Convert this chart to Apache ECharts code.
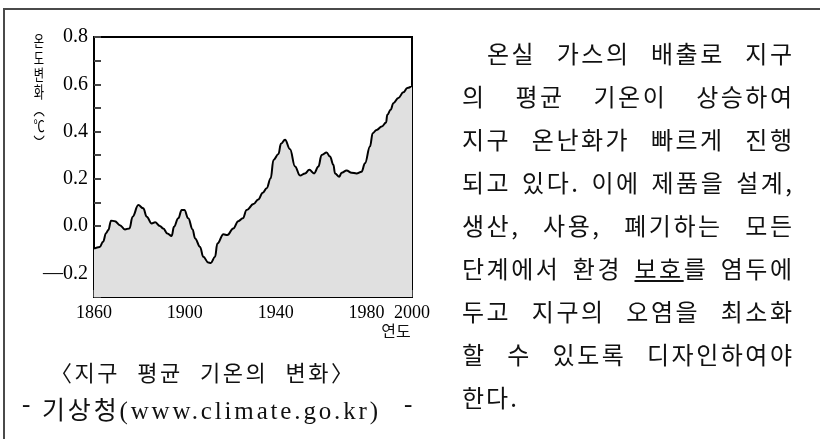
<!DOCTYPE html>
<html>
<head>
    <meta charset="utf-8">
    <title>지구 평균 기온의 변화</title>
    <script src="https://cdn.jsdelivr.net/npm/echarts@6/dist/echarts.min.js"></script>
    <style>
        html, body { margin: 0; padding: 0; background: #fff; }
        #wrap { position: relative; width: 820px; height: 439px; overflow: hidden; }
        #frame {
            position: absolute; left: 3px; top: 8px; width: 830px; height: 440px;
            border-top: 2px solid #4a4a4a; border-left: 2px solid #4a4a4a;
        }
        #chart { position: absolute; left: 0; top: 0; width: 820px; height: 439px; }
        .cap { position: absolute; color: #111; white-space: pre; }
        .fit { display: inline-block; white-space: pre; }
        #yname {
            position: absolute; left: 27px; top: 32px; width: 24px; color: #000;
            font-family: "Noto Sans CJK KR", sans-serif; font-size: 16px; line-height: 17px;
            text-align: center; transform: scaleX(0.7); transform-origin: 50% 0;
        }
        #para {
            position: absolute; left: 462px; top: 31px; width: 340px;
            font-family: "Noto Sans CJK KR", sans-serif; font-size: 24px;
            line-height: 43px; color: #111;
        }
        #para div { white-space: nowrap; }
    </style>
</head>
<body>
<div id="wrap">
    <div id="frame"></div>
    <div id="chart"></div>
    <div id="yname">온<br>도<br>변<br>화<br>︵<br>℃<br>︶</div>
    <div class="cap" style="left:50px; top:355px; font-size:22px; font-family:'Noto Sans CJK KR';"><span class="fit" data-w="303">〈지구 평균 기온의 변화〉</span></div>
    <div class="cap" style="left:22px; top:390px; font-size:25px; font-family:'Liberation Serif',serif;">-</div>
    <div class="cap" style="left:42px; top:390px; font-size:25px; font-family:'Liberation Serif','Noto Sans CJK KR',serif;"><span class="fit" data-w="336">기상청(www.climate.go.kr)</span></div>
    <div class="cap" style="left:404px; top:390px; font-size:25px; font-family:'Liberation Serif',serif;">-</div>
    <div id="para">
        <div style="padding-left:25px"><span class="fit" data-w="305">온실 가스의 배출로 지구</span></div>
        <div><span class="fit" data-w="330">의 평균 기온이 상승하여</span></div>
        <div><span class="fit" data-w="330">지구 온난화가 빠르게 진행</span></div>
        <div><span class="fit" data-w="330">되고 있다. 이에 제품을 설계,</span></div>
        <div><span class="fit" data-w="330">생산, 사용, 폐기하는 모든</span></div>
        <div><span class="fit" data-w="330">단계에서 환경 <u>보호</u>를 염두에</span></div>
        <div><span class="fit" data-w="330">두고 지구의 오염을 최소화</span></div>
        <div><span class="fit" data-w="330">할 수 있도록 디자인하여야</span></div>
        <div><span style="letter-spacing:2px">한다.</span></div>
    </div>
</div>
<script>
    // 연도 / 온도 변화(℃) - 그림에서 읽은 값
    var years = [1860, 1862.5, 1864, 1865.3, 1866.3, 1867.5, 1869.2, 1871.4, 1873.6, 1875.6,
        1877, 1879.5, 1881.7, 1883.2, 1885.4, 1886.9, 1889, 1890.5, 1892.3, 1894.2,
        1895.2, 1897.1, 1898.6, 1899.8, 1901.5, 1903.4, 1904.5, 1906.7, 1908.1, 1910.3,
        1911.4, 1913.3, 1914.3, 1917, 1918.7, 1921.3, 1923.5, 1925.5, 1927.2, 1930.2,
        1932.3, 1934.3, 1936, 1937.8, 1939, 1941.2, 1942.3, 1944.1, 1946.3, 1948.5,
        1950.7, 1952.9, 1954.8, 1956.9, 1958.8, 1960.2, 1962.4, 1963.9, 1965.4, 1966.1,
        1968, 1969, 1971.2, 1973.4, 1975.6, 1977.8, 1979.3, 1981.5, 1982.7, 1984.4,
        1986.7, 1988.6, 1989.1, 1990.6, 1991.8, 1994, 1996.2, 1997.9, 2000];
    var temps = [-0.095, -0.088, -0.066, -0.03, -0.017, 0.023, 0.021, 0.004, -0.014, -0.01,
        0.04, 0.089, 0.075, 0.04, 0.011, 0.016, 0.0, -0.01, -0.031, -0.042,
        -0.003, 0.033, 0.068, 0.068, 0.033, -0.014, -0.052, -0.088, -0.13, -0.154,
        -0.156, -0.13, -0.074, -0.035, -0.038, -0.01, 0.021, 0.033, 0.068, 0.093,
        0.113, 0.141, 0.16, 0.202, 0.28, 0.305, 0.348, 0.365, 0.325, 0.252,
        0.214, 0.223, 0.238, 0.223, 0.252, 0.301, 0.311, 0.294, 0.259, 0.223,
        0.209, 0.226, 0.235, 0.226, 0.223, 0.23, 0.266, 0.337, 0.393, 0.407,
        0.421, 0.438, 0.471, 0.492, 0.52, 0.542, 0.566, 0.584, 0.594];
    var xLabels = [1860, 1900, 1940, 1980, 2000];
    var yLabels = [-0.2, 0.0, 0.2, 0.4, 0.6, 0.8];

    // 줄 폭 맞추기: 글자 간격 2.5px 기본, 나머지는 띄어쓰기에 나눔
    document.querySelectorAll('.fit').forEach(function (el) {
        var target = +el.getAttribute('data-w');
        var txt = el.textContent;
        var n = Array.from(txt).length;
        var spaces = (txt.match(/ /g) || []).length;
        var base = 2.5;
        el.style.letterSpacing = base + 'px';
        var w = el.getBoundingClientRect().width - base;
        var rest = target - w;
        var ws = spaces ? rest / spaces : 0;
        if (!spaces || ws < 0) {
            el.style.letterSpacing = '0px';
            w = el.getBoundingClientRect().width;
            el.style.letterSpacing = ((target - w) / (n - 1)) + 'px';
        } else {
            el.style.wordSpacing = ws + 'px';
        }
    });

    var chart = echarts.init(document.getElementById('chart'));
    var numFont = '"Liberation Serif", serif';

    var points = years.map(function (y, i) { return [y, temps[i]]; });

    chart.setOption({
        animation: false,
        grid: {
            left: 94, right: 408, top: 37, bottom: 142,
            show: true, borderColor: '#000', borderWidth: 2,
            containLabel: false, outerBoundsMode: 'none'
        },
        xAxis: {
            type: 'value', min: 1860, max: 2000, interval: 20,
            axisLine: { show: true, onZero: false, lineStyle: { color: '#000', width: 2 } },
            axisTick: { show: true, inside: true, length: 7, lineStyle: { color: '#444', width: 2 } },
            splitLine: { show: false },
            axisLabel: {
                margin: 7, color: '#000', fontFamily: numFont, fontSize: 18,
                showMinLabel: true, showMaxLabel: true,
                formatter: function (v) {
                    return xLabels.indexOf(Math.round(v)) >= 0 ? String(Math.round(v)) : '';
                }
            }
        },
        yAxis: {
            type: 'value', min: -0.3, max: 0.8, interval: 0.1,
            axisLine: { show: true, onZero: false, lineStyle: { color: '#000', width: 2 } },
            axisTick: { show: true, inside: true, length: 7, lineStyle: { color: '#444', width: 2 } },
            splitLine: { show: false },
            axisLabel: {
                margin: 6, color: '#000', fontFamily: numFont, fontSize: 20,
                showMinLabel: true, showMaxLabel: true,
                formatter: function (v) {
                    var k = Math.round(v * 10) / 10;
                    for (var i = 0; i < yLabels.length; i++) {
                        if (Math.abs(yLabels[i] - k) < 1e-6) {
                            return (k < 0 ? '\u2014' : '') + Math.abs(k).toFixed(1);
                        }
                    }
                    return '';
                }
            }
        },
        graphic: [
            {
                type: 'text', x: 396, y: 323,
                style: {
                    text: '연도', fill: '#111', font: '16px "Noto Sans CJK KR"',
                    align: 'center', verticalAlign: 'top'
                }
            }
        ],
        series: [{
            type: 'line',
            data: points,
            smooth: 0.4,
            smoothMonotone: 'x',
            showSymbol: false,
            lineStyle: { color: '#000', width: 2 },
            areaStyle: { color: '#e0e0e0', opacity: 1, origin: 'start' }
        }]
    });
</script>
</body>
</html>
